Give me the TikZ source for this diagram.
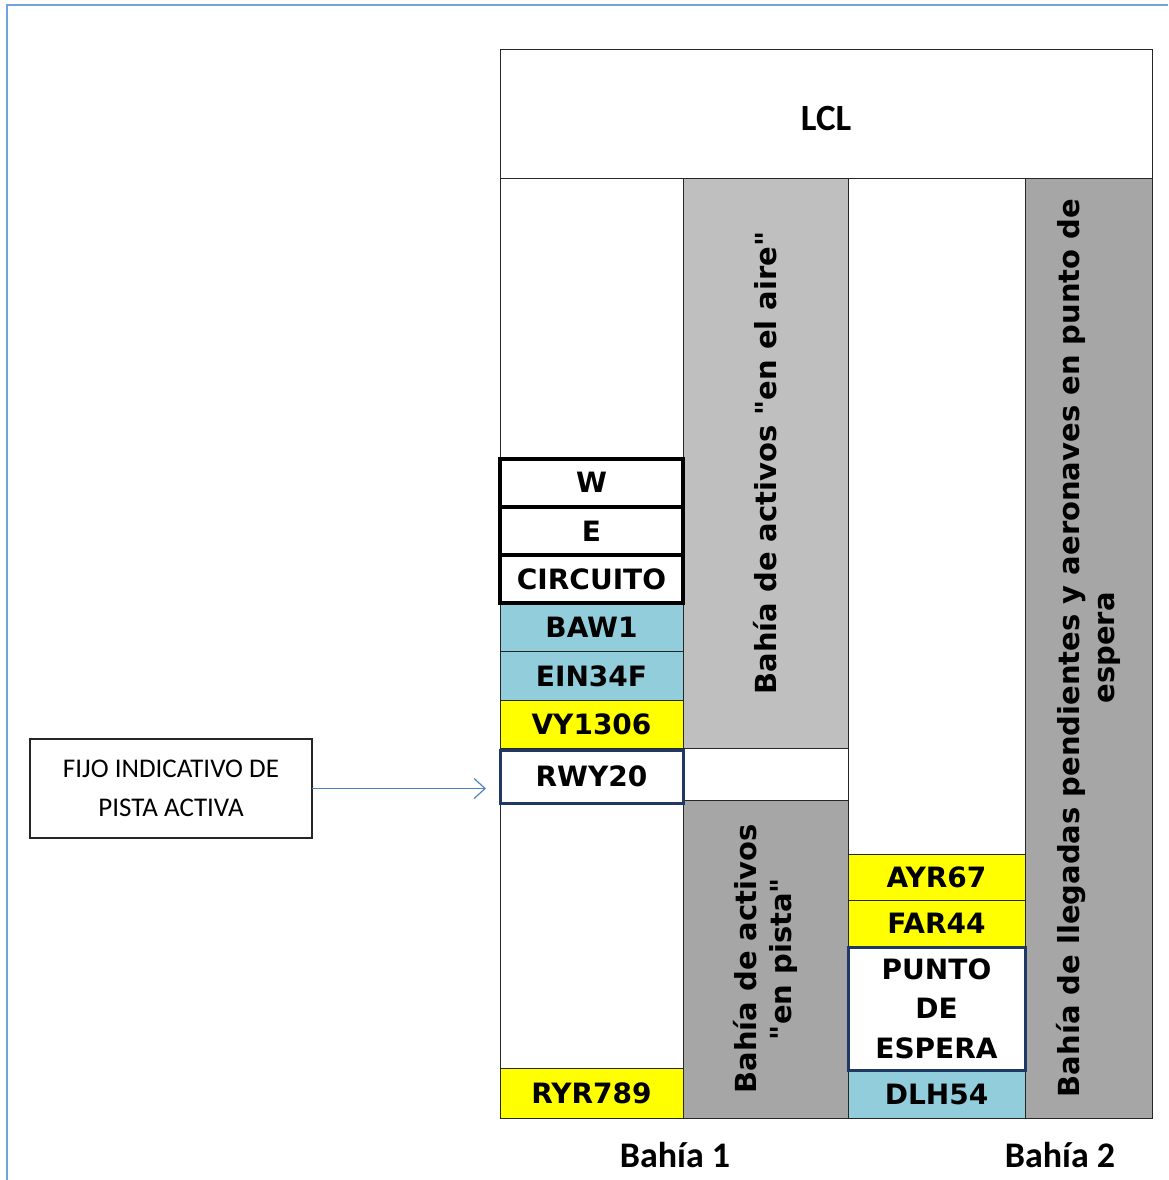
\documentclass[tikz,border=0pt]{standalone}
\usepackage{fontspec}
\setmainfont{Carlito}
\newfontfamily\verdanafont{DejaVu Sans}
\usetikzlibrary{positioning}
\usetikzlibrary{calc,arrows.meta}

\definecolor{flightblue}{HTML}{92CDDC}
\definecolor{flightyellow}{HTML}{FFFF00}
\definecolor{airgray}{HTML}{BFBFBF}
\definecolor{baygray}{HTML}{A6A6A6}
\definecolor{fixnavy}{HTML}{1F3864}
\definecolor{frameblue}{HTML}{6FA3DC}
\definecolor{arrowblue}{HTML}{4F81BD}

\tikzset{
    every node/.style={inner sep=0pt, outer sep=0pt},
    strip/.style={draw=black!85, line width=1pt, minimum width=183pt, minimum height=48.3pt,
        font=\verdanafont\bfseries\fontsize{28}{32}\selectfont},
    mode strip/.style={strip, draw=black, line width=4pt},
    blue strip/.style={strip, fill=flightblue},
    yellow strip/.style={strip, fill=flightyellow},
    fix strip/.style={strip, draw=fixnavy, line width=3pt},
    bay/.style={draw=black!85, line width=1pt, rotate=90, align=center,
        font=\verdanafont\bfseries\fontsize{29}{35}\selectfont},
    caption/.style={font=\bfseries\fontsize{36}{40}\selectfont}
}

\begin{document}
\begin{tikzpicture}[
            x = 1pt, y = -1pt, % one unit per pixel of the sheet
            > = {Straight Barb[length=11pt, width=20pt]}, % open arrow head
            grid/.style = {draw=black!85, line width=1pt}
        ]
        \useasboundingbox (0,0) rectangle (1168,1180);

        % sheet frame
        \draw[frameblue, line width=2pt] (1168,5) -- (7,5) -- (7,1180);

        % position header
        \node[draw=black!85, line width=1pt, minimum width=652pt, minimum height=128pt, text height=34pt,
            font=\bfseries\fontsize{37}{40}\selectfont] (lcl) at (826,114) {LCL};

        % bays
        \node[bay, fill=airgray, minimum width=570pt, minimum height=165pt] (air) at (765.5,463) {Bahía de activos "en el aire"};
        \node[bay, fill=baygray, minimum width=318pt, minimum height=165pt] (runway) at (765.5,959) {Bahía de activos\\"en pista"};
        \node[bay, fill=baygray, minimum width=940pt, minimum height=127pt] (arrivals) at (1088.5,648) {Bahía de llegadas pendientes y aeronaves en punto de\\espera};

        \draw[grid] (500,178) -- (500,1118) -- (1152,1118);
        \draw[grid] (848,178) -- (848,1118);
        \draw[grid] (683,748) -- (848,748) (683,800) -- (848,800);

        % bay 1 strips
        \node[yellow strip] (vy1306) at (591.5,724.2) {VY1306};
        \node[blue strip, above=0pt of vy1306] (ein34f) {EIN34F};
        \node[blue strip, above=0pt of ein34f] (baw1) {BAW1};
        \node[mode strip, above=0pt of baw1] (circuito) {CIRCUITO};
        \node[mode strip, above=0pt of circuito] (ecell) {E};
        \node[mode strip, above=0pt of ecell] (wcell) {W};

        \node[fix strip, minimum height=53pt] (rwy20) at (591.5,776.5) {RWY20};
        \node[yellow strip, minimum height=50pt] (ryr789) at (591.5,1093) {RYR789};

        % bay 2 strips
        \node[yellow strip, minimum width=177pt, minimum height=46pt] (ayr67) at (936.5,877) {AYR67};
        \node[yellow strip, minimum width=177pt, minimum height=47pt, below=0pt of ayr67] (far44) {FAR44};
        \node[blue strip, minimum width=177pt, minimum height=48pt] (dlh54) at (936.5,1094) {DLH54};
        \node[fix strip, minimum width=177pt, minimum height=123pt, below=0pt of far44, align=center,
            font=\verdanafont\bfseries\fontsize{28}{39.5}\selectfont] (punto) {PUNTO\\DE\\ESPERA};

        \node[caption] (bay1) at (675,1155) {Bahía 1};
        \node[caption] (bay2) at (1060,1155) {Bahía 2};

        % note on the active runway
        \node[draw=black!85, line width=1.2pt, minimum width=282pt, minimum height=99pt, align=center,
            font=\fontsize{27}{39}\selectfont] (fijo) at (171,788.5) {FIJO INDICATIVO DE\\PISTA ACTIVA};
        \draw[->, arrowblue, line width=1.2pt, shorten >=14pt] (fijo.east) -- (fijo.east -| rwy20.west);

  \end{tikzpicture}
\end{document}
